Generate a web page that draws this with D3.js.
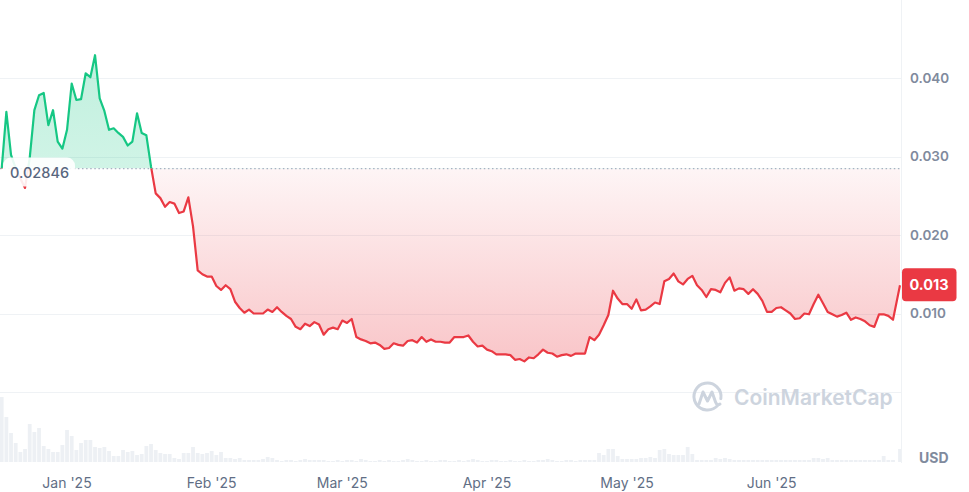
<!DOCTYPE html>
<html>
<head>
<meta charset="utf-8">
<script src="https://cdn.jsdelivr.net/npm/d3@7"></script>
<style>
  html, body { margin: 0; padding: 0; background: #ffffff; }
  svg { display: block; font-family: Inter, "Noto Sans", sans-serif; }
</style>
</head>
<body>
<svg id="chart" width="969" height="492"></svg>
<script>
// ---------------- DATA ----------------
const startDate = "2024-12-18";          // first daily point
const lastTimestamp = "2025-06-28T12:00"; // latest (live) point
const openPrice = 0.02846;
const currentLabel = "0.013";

const prices = [
  0.02846, 0.0357, 0.0302, 0.0285, 0.0272, 0.0260, 0.0298, 0.0359, 0.0378, 0.0381,
  0.0340, 0.0359, 0.0319, 0.0310, 0.0334, 0.0393, 0.0372, 0.0373, 0.0406, 0.0401,
  0.0429, 0.0374, 0.0358, 0.0334, 0.0336, 0.0330, 0.0325, 0.0314, 0.0319, 0.0355,
  0.0330, 0.0327, 0.0287, 0.0253, 0.0247, 0.0236, 0.0242, 0.0240, 0.0228, 0.0230,
  0.0248, 0.0211, 0.0155, 0.0150, 0.0147, 0.0147, 0.0135, 0.0130, 0.0136, 0.0131,
  0.0115, 0.0107, 0.0101, 0.0105, 0.0100, 0.0100, 0.0100, 0.0105, 0.0102, 0.0108,
  0.0102, 0.0097, 0.0093, 0.0083, 0.0080, 0.0087, 0.0084, 0.0089, 0.0086, 0.0073,
  0.0080, 0.0082, 0.0080, 0.0091, 0.0088, 0.0093, 0.0070, 0.0067, 0.0065, 0.0062,
  0.0063, 0.0060, 0.0055, 0.0056, 0.0062, 0.0060, 0.0059, 0.0065, 0.0066, 0.0063,
  0.0070, 0.0064, 0.0067, 0.0064, 0.0064, 0.0063, 0.0063, 0.0070, 0.0070, 0.0070,
  0.0072, 0.0064, 0.0058, 0.0059, 0.0054, 0.0052, 0.0048, 0.0048, 0.0048, 0.0047,
  0.0041, 0.0042, 0.0039, 0.0044, 0.0043, 0.0048, 0.0054, 0.0050, 0.0049, 0.0045,
  0.0047, 0.0048, 0.0046, 0.0049, 0.0049, 0.0049, 0.0070, 0.0066, 0.0073, 0.0085,
  0.0098, 0.0129, 0.0119, 0.0112, 0.0112, 0.0106, 0.0118, 0.0104, 0.0105, 0.0109,
  0.0114, 0.0112, 0.0141, 0.0144, 0.0151, 0.0141, 0.0137, 0.0144, 0.0148, 0.0136,
  0.0130, 0.0121, 0.0131, 0.0130, 0.0127, 0.0139, 0.0146, 0.0129, 0.0132, 0.0131,
  0.0125, 0.0131, 0.0125, 0.0116, 0.0102, 0.0102, 0.0107, 0.0108, 0.0104, 0.0100,
  0.0093, 0.0094, 0.0100, 0.0099, 0.0112, 0.0124, 0.0113, 0.0102, 0.0099, 0.0096,
  0.0098, 0.0101, 0.0092, 0.0095, 0.0093, 0.0090, 0.0085, 0.0083, 0.0099, 0.0099,
  0.0097, 0.0092, 0.0136
];

// relative daily volume (arbitrary units)
const volumes = [
  65, 45, 29, 19, 10, 13, 38, 30, 34, 16, 13, 10, 10, 17, 32, 26, 12, 19, 22, 22,
  15, 14, 15, 11, 6, 6, 12, 10, 11, 7, 8, 16, 18, 12, 9, 8, 8, 4, 3, 9,
  9, 15, 9, 8, 9, 11, 7, 10, 4, 4, 3, 4, 2, 2, 2, 2, 3, 5, 4, 2,
  1, 2, 2, 1, 2, 3, 2, 2, 2,
  2, 1, 1, 2, 1, 2, 2, 1, 3, 2, 1, 1, 2, 1, 2, 1, 1, 2, 3, 2,
  1, 1, 2, 1, 1, 2, 2, 1, 1, 2, 1, 2, 3, 2, 1, 1, 2, 2, 1, 1,
  2, 1, 1, 2, 1, 1, 2, 2, 3, 2, 1, 1, 2, 2, 1,
  2, 2, 2, 2, 9, 7, 13, 13, 6, 3, 3, 3, 3, 4, 4, 5, 4, 12, 13, 8,
  7, 7, 7, 15, 8, 2, 2, 2, 2, 4, 3, 4, 3, 2, 2, 2, 2, 2, 2, 2,
  2, 2, 2, 2, 2, 2, 2, 2, 2, 2, 4, 4, 3, 4, 2, 2, 2, 2, 2, 2,
  2, 2, 2, 2, 2, 6, 2, 2, 13
];

const yTickValues = [0.01, 0.02, 0.03, 0.04];
const yGridValues = [0, 0.01, 0.02, 0.03, 0.04];
const xTickDates = ["2025-01-01", "2025-02-01", "2025-03-01", "2025-04-01", "2025-05-01", "2025-06-01"];

// ---------------- BUILD ----------------
const parseDay = d3.utcParse("%Y-%m-%d");
const parseTs = d3.utcParse("%Y-%m-%dT%H:%M");
const start = parseDay(startDate);
const data = prices.map((p, i) => ({
  date: i === prices.length - 1 ? parseTs(lastTimestamp) : d3.utcDay.offset(start, i),
  price: p,
  volume: volumes[i] || 0
}));

const svg = d3.select("#chart");
const plotRight = 901;

const x = d3.scaleUtc()
  .domain([data[0].date, data[data.length - 1].date])
  .range([1.7, 900]);
const y = d3.scaleLinear().domain([0, 0.05]).range([392, -0.5]);
const yVol = d3.scaleLinear().domain([0, d3.max(volumes)]).range([462, 397]);

const defs = svg.append("defs");
const yBase = y(openPrice);

defs.append("clipPath").attr("id", "clipAbove")
  .append("rect").attr("x", 0).attr("y", -10).attr("width", plotRight).attr("height", yBase + 10);
defs.append("clipPath").attr("id", "clipBelow")
  .append("rect").attr("x", 0).attr("y", yBase).attr("width", plotRight).attr("height", 480 - yBase);

const gGreen = defs.append("linearGradient").attr("id", "gGreen")
  .attr("gradientUnits", "userSpaceOnUse").attr("x1", 0).attr("x2", 0)
  .attr("y1", y(0.043)).attr("y2", yBase);
gGreen.append("stop").attr("offset", 0).attr("stop-color", "#16c784").attr("stop-opacity", 0.27);
gGreen.append("stop").attr("offset", 1).attr("stop-color", "#16c784").attr("stop-opacity", 0.2);

const gRed = defs.append("linearGradient").attr("id", "gRed")
  .attr("gradientUnits", "userSpaceOnUse").attr("x1", 0).attr("x2", 0)
  .attr("y1", yBase).attr("y2", y(0));
gRed.append("stop").attr("offset", 0).attr("stop-color", "#ea3943").attr("stop-opacity", 0.05);
gRed.append("stop").attr("offset", 1).attr("stop-color", "#ea3943").attr("stop-opacity", 0.33);

// volume bars
svg.append("g").selectAll("rect").data(data).join("rect")
  .attr("x", d => x(d.date) - 1.9)
  .attr("width", 3.8)
  .attr("y", d => yVol(d.volume))
  .attr("height", d => 462 - yVol(d.volume))
  .attr("fill", "#edf0f4");

// grid lines
svg.append("g").selectAll("line").data(yGridValues).join("line")
  .attr("x1", 0).attr("x2", plotRight)
  .attr("y1", d => Math.round(y(d)) + 0.5).attr("y2", d => Math.round(y(d)) + 0.5)
  .attr("stroke", "#eff2f5").attr("stroke-width", 1);

// right border
svg.append("line")
  .attr("x1", plotRight + 0.5).attr("x2", plotRight + 0.5)
  .attr("y1", 0).attr("y2", 463)
  .attr("stroke", "#eff2f5").attr("stroke-width", 1);

// watermark
const wm = svg.append("g").attr("fill", "none").attr("stroke", "#cdd4de").attr("stroke-width", 3)
  .attr("stroke-linecap", "round").attr("stroke-linejoin", "round");
wm.append("path").attr("d", d3.arc()({innerRadius: 13.5, outerRadius: 13.5, startAngle: Math.PI * 0.72, endAngle: Math.PI * 2.55}))
  .attr("transform", "translate(707.5,396.5)");
wm.append("path").attr("d", "M699,404 L703,392 L707.5,401 L712,392 L715.5,402 Q717,406 720,404")
  ;
svg.append("text").attr("x", 734).attr("y", 405)
  .attr("font-size", 21).attr("font-weight", 600).attr("fill", "#cdd4de")
  .text("CoinMarketCap");

// areas
const area = d3.area().x(d => x(d.date)).y0(yBase).y1(d => y(d.price));
svg.append("path").datum(data).attr("d", area).attr("fill", "url(#gGreen)").attr("clip-path", "url(#clipAbove)");
svg.append("path").datum(data).attr("d", area).attr("fill", "url(#gRed)").attr("clip-path", "url(#clipBelow)");

// baseline dotted
svg.append("line")
  .attr("x1", 0).attr("x2", plotRight)
  .attr("y1", yBase).attr("y2", yBase)
  .attr("stroke", "#a7b1c2").attr("stroke-width", 1.2).attr("stroke-dasharray", "1.5,2.6");

// lines
const line = d3.line().x(d => x(d.date)).y(d => y(d.price));
svg.append("path").datum(data).attr("d", line).attr("fill", "none")
  .attr("stroke", "#16c784").attr("stroke-width", 2.2).attr("stroke-linejoin", "round")
  .attr("clip-path", "url(#clipAbove)");
svg.append("path").datum(data).attr("d", line).attr("fill", "none")
  .attr("stroke", "#ea3943").attr("stroke-width", 2.2).attr("stroke-linejoin", "round")
  .attr("clip-path", "url(#clipBelow)");

// open price label
svg.append("rect").attr("x", 3).attr("y", yBase - 11).attr("width", 72).attr("height", 29)
  .attr("rx", 8).attr("fill", "#ffffff").attr("fill-opacity", 0.9);
svg.append("text").attr("x", 10).attr("y", yBase + 9)
  .attr("font-size", 14.5).attr("font-weight", 500).attr("fill", "#58667e")
  .text(openPrice.toFixed(5));

// y axis labels
svg.append("g").selectAll("text").data(yTickValues).join("text")
  .attr("x", 910).attr("y", d => y(d)).attr("dy", "0.36em")
  .attr("font-size", 13.5).attr("font-weight", 600).attr("fill", "#808a9d")
  .text(d => d3.format(".3f")(d));

// current price badge
const last = data[data.length - 1];
const cy = y(last.price) - 0.5;
svg.append("rect").attr("x", 902).attr("y", cy - 16.5).attr("width", 54.5).attr("height", 33)
  .attr("rx", 4).attr("fill", "#ea3943");
svg.append("text").attr("x", 929).attr("y", cy).attr("dy", "0.36em")
  .attr("text-anchor", "middle").attr("font-size", 14.5).attr("font-weight", 700).attr("fill", "#ffffff")
  .text(currentLabel);

// x axis labels
const fmt = d3.utcFormat("%b '%y");
svg.append("g").selectAll("text").data(xTickDates.map(parseDay)).join("text")
  .attr("x", d => x(d)).attr("y", 488)
  .attr("text-anchor", "middle").attr("font-size", 14).attr("font-weight", 400).attr("fill", "#616e85")
  .text(d => fmt(d));

// USD
svg.append("text").attr("x", 919).attr("y", 463)
  .attr("font-size", 14).attr("font-weight", 700).attr("fill", "#808a9d")
  .text("USD");
</script>
</body>
</html>
